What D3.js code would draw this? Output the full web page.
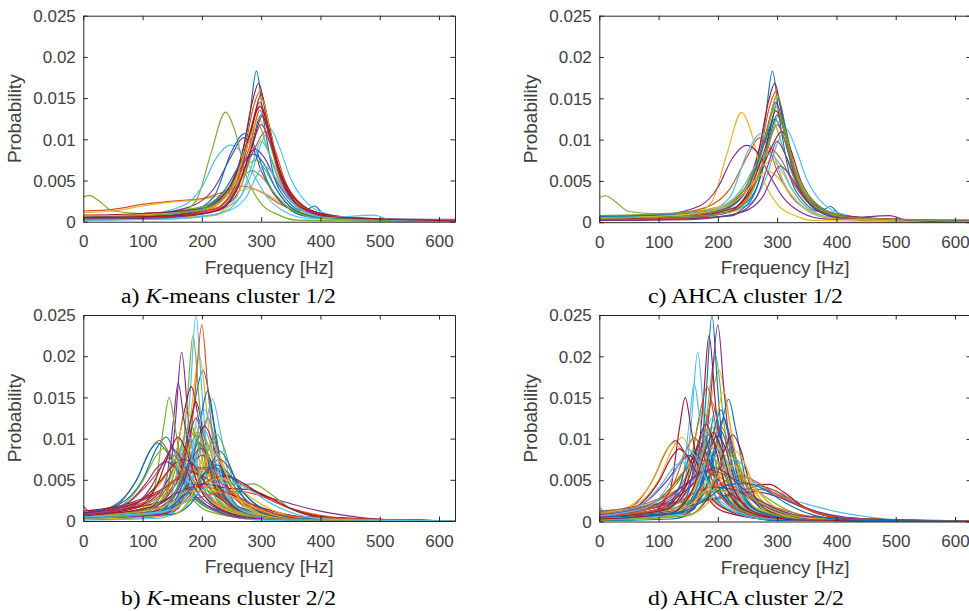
<!DOCTYPE html>
<html>
<head>
<meta charset="utf-8">
<script src="https://cdn.jsdelivr.net/npm/d3@7"></script>
<style>
  body { margin: 0; background: #fff; }
  svg { display: block; }
  .tick text { font-family: "Liberation Sans", Arial, sans-serif; font-size: 17px; fill: #404040; }
  .axis path, .axis line { stroke: #262626; stroke-width: 1; }
  .label { font-family: "Liberation Sans", Arial, sans-serif; font-size: 19px; fill: #404040; }
  .caption { font-family: "Liberation Serif", "Times New Roman", serif; font-size: 20.5px; fill: #000; }
</style>
</head>
<body>
<div id="chart"></div>
<script>
// axis ticks
const freqTicks = [0, 100, 200, 300, 400, 500, 600];
const probTicks = [0, 0.005, 0.01, 0.015, 0.02, 0.025];
const probTickLabels = ['0', '0.005', '0.01', '0.015', '0.02', '0.025'];
const freqMax = 627;

// MATLAB default colour order, curves cycle through it in plotting order
const lineColors = ['#0072BD', '#D95319', '#EDB120', '#7E2F8E', '#77AC30', '#4DBEEE', '#A2142F'];

// each curve: [frequency Hz, probability] points
const clusterOneHead = [
  [[0,.0005],[100,.0006],[180,.001],[230,.0025],[260,.006],[280,.0125],[292,.0183],[304,.0125],[320,.006],[345,.0025],[372,.0013],[390,.0019],[405,.001],[450,.0004],[520,.0001],[627,0]],
  [[0,.0004],[120,.0006],[200,.0012],[240,.003],[270,.008],[288,.0142],[298,.0158],[310,.0125],[330,.006],[360,.0022],[400,.0009],[460,.0003],[627,.0001]],
  [[0,.0002],[150,.0005],[222,.0008],[240,.0018],[262,.005],[285,.012],[300,.0152],[314,.0115],[335,.005],[370,.0015],[420,.0005],[500,.0002],[627,.0001]],
  [[0,.0006],[100,.0008],[200,.0015],[250,.004],[280,.0105],[298,.0145],[312,.0112],[330,.006],[360,.0025],[400,.001],[470,.0003],[627,.0001]],
  [[0,.003],[10,.0032],[25,.0026],[50,.0013],[100,.001],[200,.0018],[250,.0045],[275,.009],[293,.0121],[310,.009],[330,.005],[360,.002],[400,.0008],[460,.0002],[627,0]],
  [[0,.0003],[150,.0006],[230,.0015],[260,.0026],[282,.0055],[300,.0095],[315,.0113],[330,.0092],[350,.0052],[380,.0021],[420,.0008],[470,.0004],[510,.0002],[627,.0001]],
  [[0,.0007],[100,.0009],[200,.0015],[240,.0035],[270,.009],[285,.0145],[296,.0168],[308,.013],[325,.007],[350,.003],[390,.0012],[450,.0005],[520,.0002],[627,.0001]],
  [[0,.0004],[120,.0005],[200,.0009],[250,.0025],[275,.0062],[290,.011],[300,.013],[312,.011],[330,.006],[360,.002],[400,.0008],[460,.0003],[627,.0001]]
];

// the two broad curves that K-means puts in cluster 1 and AHCA in cluster 2
const movedCurves = [
  [[0,.0013],[50,.0015],[100,.0021],[150,.0025],[200,.0028],[240,.0037],[270,.0043],[300,.0036],[330,.0022],[370,.001],[420,.0004],[500,.0002],[627,.0001]],
  [[0,.0011],[50,.0013],[100,.0019],[150,.0024],[200,.0027],[250,.0035],[282,.004],[310,.0033],[340,.002],[380,.0009],[440,.0003],[627,.0001]]
];

const clusterOneTail = [
  [[0,.0005],[100,.0008],[180,.0018],[220,.004],[250,.008],[270,.0102],[285,.0092],[300,.0062],[320,.0035],[350,.0015],[400,.0005],[627,.0001]],
  [[0,.0002],[100,.0004],[160,.001],[190,.0025],[215,.0082],[240,.0133],[255,.0112],[275,.0055],[300,.0022],[330,.0008],[360,.0002],[627,0]],
  [[0,.0004],[100,.0008],[170,.002],[200,.0042],[225,.0078],[248,.0093],[265,.0086],[285,.006],[310,.003],[340,.0012],[380,.0004],[627,.0001]],
  [[0,.0006],[150,.0008],[220,.0015],[260,.005],[285,.0115],[300,.0155],[312,.0122],[330,.0065],[360,.0025],[410,.0008],[470,.0003],[627,.0001]],
  [[0,.0003],[100,.0005],[180,.0012],[220,.003],[250,.0085],[272,.0107],[290,.009],[310,.005],[340,.002],[380,.0006],[627,.0001]],
  [[0,.0005],[150,.0007],[230,.0018],[265,.005],[290,.009],[308,.011],[322,.009],[340,.005],[370,.002],[420,.0006],[627,.0001]],
  [[0,.0003],[150,.0005],[225,.0008],[240,.0015],[265,.004],[288,.011],[302,.0148],[315,.011],[335,.005],[370,.0018],[430,.0005],[627,.0001]],
  [[0,.0004],[120,.0006],[200,.0015],[245,.004],[270,.007],[290,.0088],[305,.0078],[325,.005],[350,.0025],[390,.0009],[450,.0003],[627,.0001]],
  [[0,.0006],[100,.0008],[200,.0018],[250,.0045],[275,.0068],[292,.0075],[305,.0065],[325,.004],[350,.0018],[390,.0006],[627,.0001]],
  [[0,.0002],[150,.0004],[230,.001],[265,.003],[285,.007],[300,.0098],[315,.008],[335,.0045],[360,.0018],[400,.0006],[480,.0002],[627,.0001]],
  [[0,.0008],[100,.001],[200,.0016],[245,.004],[275,.009],[298,.014],[310,.012],[328,.007],[355,.003],[400,.001],[460,.0004],[627,.0001]],
  [[0,.0006],[100,.0008],[200,.0016],[240,.004],[265,.007],[288,.0082],[305,.007],[325,.004],[355,.0015],[400,.0005],[627,.0001]],
  [[0,.0004],[130,.0006],[215,.0012],[250,.0035],[280,.009],[298,.0135],[312,.011],[330,.006],[360,.0022],[410,.0007],[627,.0001]],
  [[0,.0007],[120,.0009],[210,.0016],[250,.004],[278,.0095],[296,.0125],[310,.0105],[330,.0055],[360,.002],[410,.0006],[627,.0001]],
  [[0,.0003],[140,.0005],[220,.0012],[255,.0035],[282,.0085],[300,.0118],[314,.0098],[334,.005],[365,.0018],[420,.0005],[580,.0003],[627,.0003]],
  [[0,.0005],[100,.0007],[200,.0015],[245,.0035],[268,.0055],[285,.0062],[300,.0055],[322,.0035],[350,.0015],[400,.0004],[627,0]],
  [[0,.0002],[150,.0003],[240,.0012],[275,.003],[292,.0055],[305,.0068],[318,.006],[338,.0038],[365,.0015],[410,.0005],[490,.0008],[520,.0002],[627,0]],
  [[0,.0005],[150,.0007],[225,.0013],[260,.004],[286,.0095],[302,.0128],[315,.0102],[335,.0052],[365,.0019],[420,.0006],[627,.0001]]
];

const clusterTwo = [
  [[0,.0003],[100,.0008],[150,.003],[175,.008],[190,.0152],[202,.0183],[215,.014],[230,.0072],[250,.0025],[300,.0006],[400,.0001],[627,0]],
  [[0,.0008],[50,.0016],[90,.005],[115,.0088],[128,.0098],[145,.0082],[170,.0045],[200,.002],[250,.0008],[350,.0002],[627,0]],
  [[0,.0002],[120,.001],[160,.004],[180,.0122],[196,.02],[210,.0122],[225,.0042],[260,.001],[350,.0002],[627,0]],
  [[0,.0005],[100,.001],[140,.003],[155,.0118],[166,.0205],[177,.0125],[195,.005],[230,.002],[300,.0006],[400,.0001],[627,0]],
  [[0,.0003],[120,.001],[160,.004],[175,.0142],[185,.0225],[196,.0142],[210,.005],[240,.0015],[300,.0003],[627,0]],
  [[0,.0002],[130,.001],[165,.0042],[180,.0152],[190,.025],[200,.0158],[215,.005],[250,.0012],[320,.0002],[627,0]],
  [[0,.0008],[100,.002],[150,.006],[170,.0132],[182,.0163],[195,.0122],[215,.005],[250,.0018],[320,.0004],[627,0]],
  [[0,.001],[60,.002],[100,.005],[125,.009],[140,.0102],[155,.0082],[180,.004],[220,.0015],[300,.0004],[627,0]],
  [[0,.0002],[130,.0008],[170,.004],[188,.0152],[200,.0238],[210,.0162],[225,.006],[250,.0015],[320,.0002],[627,0]],
  [[0,.0004],[100,.001],[145,.004],[162,.0102],[175,.0135],[188,.0102],[205,.0045],[240,.0015],[300,.0003],[627,0]],
  [[0,.0005],[110,.0015],[140,.005],[152,.0122],[160,.0167],[170,.0122],[190,.005],[230,.0015],[300,.0003],[627,0]],
  [[0,.0004],[90,.0012],[120,.004],[135,.0112],[145,.015],[155,.0112],[175,.004],[210,.0012],[300,.0002],[627,0]],
  [[0,.0002],[140,.0008],[180,.004],[205,.0112],[218,.0148],[230,.0112],[250,.0042],[280,.0012],[350,.0002],[627,0]],
  [[0,.0006],[110,.0015],[160,.005],[178,.011],[190,.0145],[202,.011],[220,.005],[255,.0018],[320,.0004],[627,0]],
  [[0,.0003],[130,.001],[175,.004],[197,.0122],[210,.0158],[222,.0112],[240,.0045],[270,.0013],[340,.0002],[627,0]],
  [[0,.0005],[120,.0012],[170,.004],[195,.009],[210,.0125],[225,.009],[245,.004],[280,.0015],[350,.0003],[627,0]],
  [[0,.0008],[80,.0018],[130,.0045],[160,.0078],[178,.0085],[195,.0075],[220,.0045],[260,.0018],[320,.0005],[627,0]],
  [[0,.0018],[10,.0012],[60,.0016],[120,.0032],[170,.0055],[210,.0065],[250,.0052],[300,.0032],[350,.0021],[400,.0012],[450,.0006],[500,.0002],[560,.0001],[627,0]],
  [[0,.0005],[100,.0015],[150,.004],[190,.0062],[225,.0052],[260,.0044],[287,.0045],[312,.0035],[350,.0015],[400,.0005],[627,0]],
  [[0,.0002],[140,.0008],[170,.003],[185,.0092],[195,.0135],[205,.0102],[220,.004],[250,.001],[320,.0002],[627,0]],
  [[0,.001],[100,.0018],[150,.003],[180,.007],[205,.0115],[225,.008],[250,.004],[290,.0018],[350,.0006],[627,0]],
  [[0,.0009],[50,.0018],[90,.005],[112,.0085],[125,.0095],[140,.0085],[165,.005],[200,.002],[260,.0006],[627,0]],
  [[0,.0006],[120,.0018],[155,.005],[172,.009],[185,.0105],[198,.009],[220,.0045],[260,.0015],[330,.0003],[627,0]],
  [[0,.0004],[140,.0012],[180,.004],[200,.0075],[215,.0095],[232,.0075],[255,.0035],[290,.0012],[360,.0002],[627,0]],
  [[0,.0006],[110,.0015],[160,.004],[185,.007],[200,.008],[220,.0068],[245,.004],[280,.0018],[340,.0005],[627,0]],
  [[0,.0005],[100,.0013],[140,.004],[158,.0078],[170,.0095],[183,.0078],[205,.0035],[240,.0012],[300,.0003],[627,0]],
  [[0,.0001],[120,.0003],[150,.0008],[165,.004],[180,.0075],[195,.006],[215,.003],[245,.0008],[300,.0001],[627,0]],
  [[0,.0012],[80,.0022],[140,.0042],[165,.0055],[180,.006],[200,.0055],[230,.004],[270,.0025],[320,.0012],[380,.0004],[627,0]],
  [[0,.0002],[120,.0005],[155,.0012],[168,.0035],[180,.0045],[200,.004],[230,.0028],[270,.0015],[330,.0005],[627,0]],
  [[0,.0008],[70,.002],[115,.005],[138,.0072],[150,.008],[165,.0072],[190,.0045],[230,.0018],[290,.0005],[627,0]],
  [[0,.0003],[120,.001],[160,.004],[178,.009],[190,.0115],[202,.009],[220,.004],[255,.0012],[320,.0002],[627,0]],
  [[0,.0004],[140,.0012],[190,.004],[215,.0068],[230,.0075],[245,.0065],[270,.0035],[310,.0012],[380,.0002],[627,0]],
  [[0,.0003],[130,.001],[170,.0042],[188,.0088],[200,.0105],[213,.0088],[232,.004],[265,.0012],[330,.0002],[627,0]],
  [[0,.0004],[100,.0012],[135,.0042],[150,.0075],[160,.0085],[172,.0072],[192,.0035],[225,.0012],[290,.0002],[627,0]],
  [[0,.0006],[120,.0015],[180,.0035],[215,.005],[240,.0055],[265,.0048],[300,.0032],[340,.0018],[390,.0007],[450,.0002],[627,0]],
  [[0,.0003],[130,.0009],[180,.0035],[205,.0058],[220,.0065],[238,.0058],[262,.0035],[300,.0013],[360,.0003],[627,0]],
  [[0,.0005],[120,.0012],[180,.0025],[220,.0033],[265,.0036],[300,.003],[340,.0018],[390,.0008],[450,.0003],[500,.0002],[627,0]],
  [[0,.0007],[80,.0018],[120,.004],[142,.006],[155,.0065],[170,.006],[195,.0038],[235,.0015],[300,.0004],[627,0]],
  [[0,.0004],[120,.0011],[160,.0042],[177,.0095],[190,.0125],[203,.0095],[222,.0042],[258,.0013],[320,.0003],[627,0]],
  [[0,.0007],[60,.0017],[100,.0048],[122,.0078],[135,.0088],[150,.0078],[175,.0042],[210,.0016],[270,.0004],[627,0]],
  [[0,.0002],[140,.0008],[178,.0038],[194,.0085],[205,.011],[217,.0088],[236,.004],[270,.0011],[340,.0002],[627,0]],
  [[0,.0009],[90,.0022],[130,.0048],[155,.007],[170,.0075],[186,.0068],[210,.0042],[250,.0018],[310,.0005],[627,0]],
  [[0,.0003],[120,.0009],[160,.0038],[182,.0078],[195,.0095],[208,.008],[228,.0042],[262,.0013],[330,.0002],[627,0]],
  [[0,.0007],[100,.0018],[140,.0038],[162,.0056],[175,.0062],[192,.0056],[220,.0035],[265,.0014],[330,.0003],[627,0]],
  [[0,.0004],[140,.0012],[190,.0035],[212,.0048],[230,.0052],[250,.0047],[280,.003],[320,.0013],[380,.0003],[627,0]],
  [[0,.0008],[70,.002],[105,.0045],[126,.0066],[140,.0072],[156,.0064],[180,.0038],[220,.0014],[280,.0003],[627,0]],
  [[0,.0002],[150,.0008],[190,.0038],[212,.0088],[225,.0105],[238,.0088],[256,.004],[290,.0011],[360,.0002],[627,0]],
  [[0,.0003],[120,.0009],[150,.0035],[165,.0085],[175,.0105],[186,.0085],[205,.0035],[240,.001],[300,.0002],[627,0]],
  [[0,.0006],[110,.0016],[170,.0038],[205,.0045],[240,.004],[280,.0038],[310,.003],[350,.0015],[400,.0005],[627,0]],
  [[0,.0002],[150,.0008],[195,.0035],[218,.0072],[230,.0085],[244,.0072],[265,.0035],[300,.001],[360,.0002],[627,0]],
  [[0,.0004],[120,.0008],[160,.0015],[172,.0035],[190,.0042],[230,.0038],[260,.0025],[300,.0012],[360,.0003],[627,0]],
  [[0,.0006],[110,.0013],[155,.0025],[175,.0036],[215,.0037],[250,.003],[290,.0016],[340,.0005],[627,0]],
  [[0,.0003],[140,.0009],[168,.0045],[185,.0078],[198,.0088],[212,.0078],[232,.004],[265,.0012],[330,.0002],[627,0]],
  [[0,.0005],[110,.0014],[150,.005],[168,.0098],[180,.0118],[192,.0098],[212,.0045],[245,.0014],[310,.0003],[627,0]],
  [[0,.0003],[130,.001],[172,.0045],[192,.0105],[205,.0135],[218,.0105],[238,.0042],[270,.0012],[340,.0002],[627,0]],
  [[0,.0006],[90,.0016],[125,.0045],[148,.0088],[160,.0102],[172,.0088],[195,.0042],[235,.0013],[300,.0003],[627,0]],
  [[0,.0004],[130,.0012],[180,.0038],[210,.0062],[225,.0068],[242,.006],[268,.0036],[305,.0014],[370,.0003],[627,0]],
  [[0,.0008],[100,.0022],[150,.0048],[180,.0062],[195,.0065],[215,.0058],[245,.0038],[290,.0018],[350,.0006],[627,0]],
  [[0,.0002],[150,.0007],[185,.0035],[205,.0072],[218,.0082],[232,.007],[255,.0035],[290,.001],[360,.0002],[627,0]],
  [[0,.0007],[80,.0017],[115,.0042],[138,.0075],[150,.0088],[163,.0078],[188,.004],[228,.0014],[290,.0003],[627,0]],
  [[0,.0003],[120,.001],[158,.004],[180,.0088],[192,.0108],[205,.009],[225,.0042],[260,.0012],[330,.0002],[627,0]],
  [[0,.0005],[140,.0012],[190,.0032],[220,.0045],[250,.0046],[280,.0038],[315,.0022],[360,.0008],[420,.0002],[627,0]]
];

const panels = [
  { left: 83.3, top: 15.7, height: 206, curves: clusterOneHead.concat(movedCurves, clusterOneTail),
    caption: ['a) ', 'K', '-means cluster 1/2'], capX: 121, capY: 303, capLen: 215 },
  { left: 83.3, top: 315, height: 206, curves: clusterTwo,
    caption: ['b) ', 'K', '-means cluster 2/2'], capX: 121, capY: 604.5, capLen: 215 },
  { left: 599.3, top: 15.7, height: 206.5, curves: clusterOneHead.concat(clusterOneTail),
    caption: ['c) AHCA cluster 1/2'], capX: 648, capY: 303, capLen: 195 },
  { left: 599.3, top: 315, height: 206.5, curves: movedCurves.concat(clusterTwo),
    caption: ['d) AHCA cluster 2/2'], capX: 648, capY: 604.5, capLen: 196 }
];

const width = 969, height = 611;
const plotWidth = 371.7;

const svg = d3.select('#chart').append('svg')
  .attr('width', width)
  .attr('height', height);

svg.append('rect').attr('width', width).attr('height', height).attr('fill', '#fff');

panels.forEach((p, k) => {
  const g = svg.append('g').attr('transform', `translate(${p.left},${p.top})`);

  const x = d3.scaleLinear().domain([0, freqMax]).range([0, plotWidth]);
  const y = d3.scaleLinear().domain([0, 0.025]).range([p.height, 0]);

  // clip curves to the axes box
  g.append('clipPath').attr('id', 'clip' + k)
    .append('rect').attr('width', plotWidth).attr('height', p.height);

  const line = d3.line()
    .x(d => x(d[0]))
    .y(d => y(d[1]))
    .curve(d3.curveMonotoneX);

  g.append('g').attr('clip-path', `url(#clip${k})`)
    .selectAll('path')
    .data(p.curves)
    .enter()
    .append('path')
    .attr('d', line)
    .attr('fill', 'none')
    .attr('stroke', (d, i) => lineColors[i % lineColors.length])
    .attr('stroke-width', 1.15);

  // bottom and left axes with labels, ticks point inward
  g.append('g').attr('class', 'axis')
    .attr('transform', `translate(0,${p.height})`)
    .call(d3.axisBottom(x).tickValues(freqTicks).tickSizeInner(-4.5).tickSizeOuter(0).tickPadding(13.5).tickFormat(d3.format('d')));

  g.append('g').attr('class', 'axis')
    .call(d3.axisLeft(y).tickValues(probTicks).tickSizeInner(-4.5).tickSizeOuter(0).tickPadding(7.5)
      .tickFormat((d, i) => probTickLabels[i]));

  // top and right edges of the box
  g.append('g').attr('class', 'axis')
    .call(d3.axisTop(x).tickValues(freqTicks).tickSizeInner(-4.5).tickSizeOuter(0).tickFormat(''));
  g.append('g').attr('class', 'axis')
    .attr('transform', `translate(${plotWidth},0)`)
    .call(d3.axisRight(y).tickValues(probTicks).tickSizeInner(-4.5).tickSizeOuter(0).tickFormat(''));

  g.selectAll('.axis .tick text').each(function() {
    const t = d3.select(this);
    if (t.attr('x') !== null && +t.attr('x') < 0) t.attr('dy', '0.34em');
    else t.attr('dy', '0.71em');
  });

  g.append('text').attr('class', 'label')
    .attr('x', plotWidth / 2)
    .attr('y', p.height + 52)
    .attr('text-anchor', 'middle')
    .text('Frequency [Hz]');

  g.append('text').attr('class', 'label')
    .attr('transform', `translate(-62.5,${p.height / 2}) rotate(-90)`)
    .attr('text-anchor', 'middle')
    .text('Probability');

  const cap = svg.append('text').attr('class', 'caption')
    .attr('x', p.capX)
    .attr('y', p.capY)
    .attr('textLength', p.capLen)
    .attr('lengthAdjust', 'spacingAndGlyphs');
  p.caption.forEach(s => {
    cap.append('tspan').attr('font-style', s === 'K' ? 'italic' : null).text(s);
  });
});
</script>
</body>
</html>
